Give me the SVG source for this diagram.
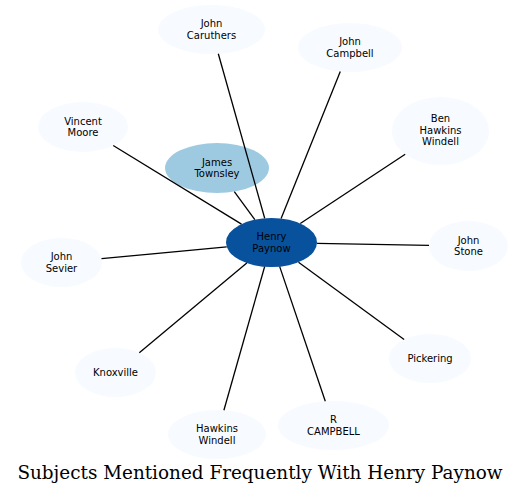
<svg xmlns="http://www.w3.org/2000/svg" width="529" height="495" viewBox="0 0 529 495">
<style>
.n ellipse{fill:#f7fbff;stroke:none}
.n text{font-family:"DejaVu Sans",sans-serif;font-size:10px;text-anchor:middle;fill:#000}
.e line{stroke:#000;stroke-width:1.3}
.title{font-family:"DejaVu Serif",serif;font-size:18.4px;text-anchor:middle;fill:#000}
</style>
<rect width="529" height="495" fill="#fff"/>
<g id="node-henry" class="n"><ellipse cx="271.5" cy="242.5" rx="45.5" ry="24.5" style="fill:#08519c"/><text x="271.5" y="240.3">Henry</text><text x="271.5" y="251.8">Paynow</text></g>
<g id="node-townsley" class="n"><ellipse cx="217" cy="168" rx="52" ry="25" style="fill:#9ecae1"/><text x="217" y="165.8">James</text><text x="217" y="177.3">Townsley</text></g>
<g id="node-caruthers" class="n"><ellipse cx="211.5" cy="29.5" rx="53.5" ry="24.5"/><text x="211.5" y="27.3">John</text><text x="211.5" y="38.8">Caruthers</text></g>
<g id="node-campbell" class="n"><ellipse cx="350" cy="47.5" rx="52" ry="24.5"/><text x="350" y="45.3">John</text><text x="350" y="56.8">Campbell</text></g>
<g id="node-moore" class="n"><ellipse cx="83" cy="127" rx="45" ry="25"/><text x="83" y="124.8">Vincent</text><text x="83" y="136.3">Moore</text></g>
<g id="node-ben" class="n"><ellipse cx="440.5" cy="131" rx="48.5" ry="34"/><text x="440.5" y="122">Ben</text><text x="440.5" y="133.5">Hawkins</text><text x="440.5" y="145">Windell</text></g>
<g id="node-stone" class="n"><ellipse cx="468.5" cy="246" rx="39.5" ry="25"/><text x="468.5" y="243.8">John</text><text x="468.5" y="255.3">Stone</text></g>
<g id="node-sevier" class="n"><ellipse cx="61.5" cy="262.5" rx="40.5" ry="24.5"/><text x="61.5" y="260.3">John</text><text x="61.5" y="271.8">Sevier</text></g>
<g id="node-knoxville" class="n"><ellipse cx="115.5" cy="372.5" rx="40.5" ry="24.5"/><text x="115.5" y="376">Knoxville</text></g>
<g id="node-pickering" class="n"><ellipse cx="430" cy="358.5" rx="41" ry="24.5"/><text x="430" y="362">Pickering</text></g>
<g id="node-hawkins-windell" class="n"><ellipse cx="217" cy="434.5" rx="49" ry="24.5"/><text x="217" y="432.3">Hawkins</text><text x="217" y="443.8">Windell</text></g>
<g id="node-rcampbell" class="n"><ellipse cx="333.5" cy="425.5" rx="55.5" ry="24.5"/><text x="333.5" y="423.3">R</text><text x="333.5" y="434.8">CAMPBELL</text></g>
<g id="connectors" class="e">
<line x1="264.7" y1="218.3" x2="218.3" y2="53.8"/>
<line x1="281.1" y1="218.6" x2="340.3" y2="71.6"/>
<line x1="241.5" y1="224.1" x2="113.2" y2="145.5"/>
<line x1="300.3" y1="223.5" x2="405.2" y2="154.3"/>
<line x1="317" y1="243.3" x2="429" y2="245.3"/>
<line x1="226.7" y1="246.8" x2="101.5" y2="258.7"/>
<line x1="246.8" y1="263.1" x2="139.3" y2="352.7"/>
<line x1="298.5" y1="262.2" x2="404.1" y2="339.5"/>
<line x1="264.6" y1="266.7" x2="223.9" y2="410.2"/>
<line x1="279.7" y1="266.6" x2="325.3" y2="401.3"/>
<line x1="254.8" y1="219.7" x2="234.3" y2="191.6"/>
</g>
<text class="title" x="260" y="479">Subjects Mentioned Frequently With Henry Paynow</text>
</svg>
